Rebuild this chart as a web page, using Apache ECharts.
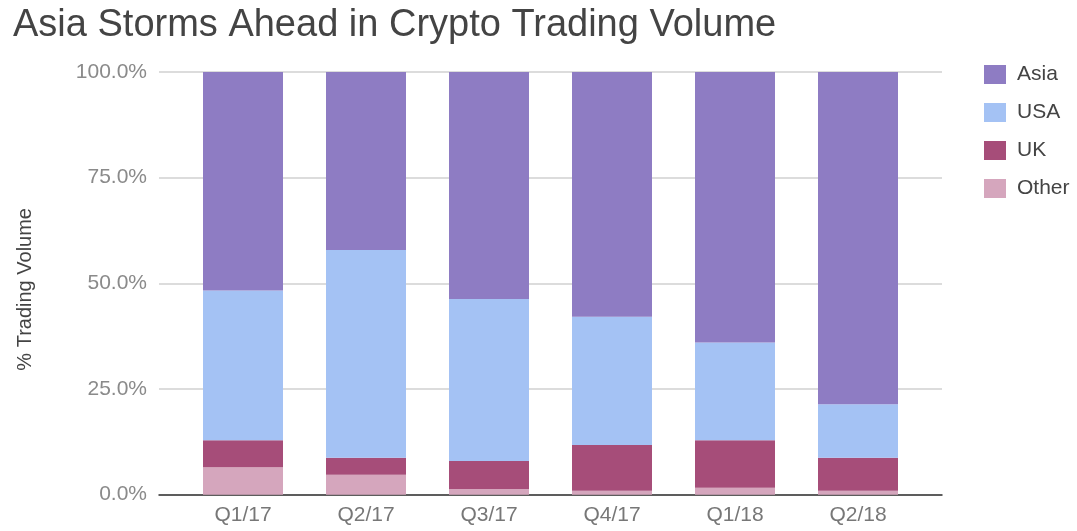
<!DOCTYPE html>
<html>
<head>
<meta charset="utf-8">
<script src="https://cdn.jsdelivr.net/npm/echarts@6/dist/echarts.min.js"></script>
<style>
html,body{margin:0;padding:0;background:#fff;}
#chart{width:1077px;height:531px;}
</style>
</head>
<body>
<div id="chart"></div>
<script>
const categories = ['Q1/17', 'Q2/17', 'Q3/17', 'Q4/17', 'Q1/18', 'Q2/18'];
const asia  = [51.7, 42.1, 53.7, 57.9, 64.0, 78.6];
const usa   = [35.4, 49.15, 38.3, 30.35, 23.1, 12.65];
const uk    = [6.4, 4.05, 6.65, 10.8, 11.25, 7.8];
const other = [6.5, 4.7, 1.35, 0.95, 1.65, 0.95];
const yTicks = [0, 25, 50, 75, 100];

const FONT = '"Liberation Sans", Arial, sans-serif';
const chart = echarts.init(document.getElementById('chart'), null, {renderer: 'canvas'});

function bar(name, data, color) {
  return {
    name: name, type: 'bar', stack: 'total', data: data,
    xAxisIndex: 1, yAxisIndex: 1, barWidth: 80,
    itemStyle: {color: color}
  };
}

chart.setOption({
  animation: false,
  title: {
    text: 'Asia Storms Ahead in Crypto Trading Volume',
    left: 8, top: 2,
    textStyle: {fontFamily: FONT, fontSize: 38, fontWeight: 'normal', color: '#444'}
  },
  legend: {
    orient: 'vertical', left: 979, top: 59,
    itemWidth: 22, itemHeight: 19, itemGap: 17,
    icon: 'rect',
    data: ['Asia', 'USA', 'UK', 'Other'],
    textStyle: {fontFamily: FONT, fontSize: 21, color: '#444', padding: [0, 0, 0, 6]}
  },
  grid: [
    {left: 159, right: 135, top: 72, bottom: 36.3},
    {left: 181.5, right: 157.5, top: 72, bottom: 36.3}
  ],
  xAxis: [
    {gridIndex: 0, type: 'value', min: 0, max: 1, show: true,
     axisLine: {show: true, lineStyle: {color: '#333', width: 1.5}},
     axisTick: {show: false}, axisLabel: {show: false}, splitLine: {show: false}},
    {gridIndex: 1, type: 'category', data: categories,
     axisLine: {show: false}, axisTick: {show: false},
     axisLabel: {fontFamily: FONT, fontSize: 21, color: '#777', margin: 10}}
  ],
  yAxis: [
    {gridIndex: 0, type: 'value', min: 0, max: 100, interval: 25,
     name: '% Trading Volume', nameLocation: 'middle', nameGap: 124,
     nameTextStyle: {fontFamily: FONT, fontSize: 20, color: '#444', padding: [0, 12, 0, 0]},
     axisLine: {show: false}, axisTick: {show: false},
     axisLabel: {fontFamily: FONT, fontSize: 21, color: '#8a8a8a', margin: 12,
                 formatter: v => v.toFixed(1) + '%'},
     splitLine: {lineStyle: {color: '#d0d0d0', width: 1.5}}},
    {gridIndex: 1, type: 'value', min: 0, max: 100, interval: 25, show: false}
  ],
  series: [
    bar('Other', other, '#d5a6bd'),
    bar('UK', uk, '#a64d79'),
    bar('USA', usa, '#a4c2f4'),
    bar('Asia', asia, '#8e7cc3')
  ]
});
</script>
</body>
</html>
